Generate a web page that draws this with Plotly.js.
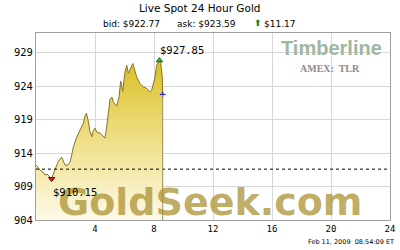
<!DOCTYPE html>
<html>
<head>
<meta charset="utf-8">
<script src="https://cdn.plot.ly/plotly-3.0.1.min.js"></script>
<style>html,body{margin:0;padding:0;background:#fff;}#chart{width:400px;height:250px;}</style>
</head>
<body>
<div id="chart"></div>
<script>
// hours since start of the 24h window
const hours = [0, 0.14, 0.27, 0.47, 0.61, 0.75, 0.88, 1.06, 1.15, 1.29, 1.49, 1.74, 1.83, 1.97, 2.17, 2.31, 2.42, 2.53, 2.76, 2.98, 3.21, 3.32, 3.42, 3.53, 3.66, 3.78, 3.88, 4.0, 4.12, 4.34, 4.56, 4.68, 4.79, 4.90, 5.02, 5.15, 5.24, 5.47, 5.63, 5.74, 5.88, 6.03, 6.15, 6.26, 6.37, 6.56, 6.64, 6.83, 7.05, 7.27, 7.51, 7.73, 7.84, 7.95, 8.07, 8.18, 8.29, 8.37, 8.45, 8.56, 8.59];
const prices = [912.21, 911.91, 911.46, 911.16, 910.72, 910.87, 910.57, 910.15, 910.72, 911.46, 912.66, 913.40, 912.81, 912.21, 912.21, 912.66, 913.70, 914.90, 916.39, 917.43, 918.48, 919.52, 919.97, 918.93, 917.28, 916.43, 917.28, 917.73, 917.13, 916.99, 916.46, 916.24, 917.88, 920.42, 922.06, 922.36, 921.61, 921.01, 922.36, 924.75, 923.25, 926.09, 927.13, 925.94, 926.39, 927.39, 926.84, 925.34, 924.40, 923.90, 923.66, 923.15, 923.40, 924.40, 925.34, 927.13, 927.63, 927.85, 927.63, 925.39, 922.77];
const prevClose = 911.60;
const highPoint = {x: 8.37, y: 927.85, label: "$927.85"};
const lowPoint = {x: 1.06, y: 910.15, label: "$910.15"};
const bid = "$922.77", ask = "$923.59", change = "$11.17";
const xTicks = [4, 8, 12, 16, 20, 24];
const yTicks = [904, 909, 914, 919, 924, 929];
const stamp = "Feb 11, 2009  08:54:09 ET";

const lastX = hours[hours.length - 1];
const lastY = prices[prices.length - 1];
const mono = "DejaVu Sans Mono";

const traces = [
  {
    x: hours, y: prices, type: "scatter", mode: "lines",
    line: {color: "#857522", width: 1},
    fill: "tozeroy",
    fillgradient: {type: "vertical", start: 904, stop: 928,
      colorscale: [[0, "#fdfae8"], [0.5, "#efdf86"], [1, "#dbbf24"]]},
    hoverinfo: "skip"
  },
  {
    x: [0, 24], y: [prevClose, prevClose], type: "scatter", mode: "lines",
    line: {color: "#000", width: 1, dash: "3px,3px"}, hoverinfo: "skip"
  },
  {
    x: [highPoint.x], y: [highPoint.y], type: "scatter", mode: "markers",
    marker: {symbol: "triangle-up", size: 5.5, color: "#22cc22", line: {color: "#225522", width: 1}}
  },
  {
    x: [lowPoint.x], y: [lowPoint.y], type: "scatter", mode: "markers",
    marker: {symbol: "triangle-down", size: 5.5, color: "#ee1111", line: {color: "#551111", width: 1}}
  },
  {
    x: [lastX], y: [lastY], type: "scatter", mode: "markers",
    marker: {symbol: "cross-thin", size: 4, line: {color: "#0000ee", width: 1}}
  }
];

const layout = {
  width: 400, height: 250,
  margin: {l: 36, r: 10, t: 33, b: 30, pad: 0},
  paper_bgcolor: "#fff", plot_bgcolor: "#fff",
  showlegend: false,
  xaxis: {
    range: [0, 24], tickvals: xTicks, ticktext: xTicks.map(String),
    showgrid: true, gridcolor: "#d8d8d8", gridwidth: 1,
    showline: true, linecolor: "#a0a0a0", linewidth: 1, mirror: true,
    zeroline: false, ticks: "", ticklen: 0,
    tickfont: {family: mono, size: 9, color: "#000"}, fixedrange: true
  },
  yaxis: {
    range: [904, 931.95], tickvals: yTicks, ticktext: yTicks.map(String),
    showgrid: true, gridcolor: "#d8d8d8", gridwidth: 1,
    showline: true, linecolor: "#a0a0a0", linewidth: 1, mirror: true,
    zeroline: false, ticks: "", ticklen: 0,
    tickfont: {family: mono, size: 10.5, color: "#000"}, fixedrange: true
  },
  shapes: [
    {type: "line", xref: "x", yref: "y", x0: lastX, x1: lastX, y0: 904, y1: lastY,
     line: {color: "#9a8c55", width: 1}}
  ],
  annotations: [
    {text: "Live Spot 24 Hour Gold", xref: "paper", yref: "paper", x: (199 - 36) / 354, y: (220 - 8) / 187,
     xanchor: "center", yanchor: "middle", showarrow: false,
     font: {family: "DejaVu Sans", size: 10.5, color: "#000"}},
    {text: "bid: " + bid, xref: "paper", yref: "paper", x: (101 - 36) / 354, y: (220 - 24) / 187,
     xanchor: "left", yanchor: "middle", showarrow: false,
     font: {family: "DejaVu Sans", size: 9, color: "#000"}},
    {text: "ask: " + ask, xref: "paper", yref: "paper", x: (175 - 36) / 354, y: (220 - 24) / 187,
     xanchor: "left", yanchor: "middle", showarrow: false,
     font: {family: "DejaVu Sans", size: 9, color: "#000"}},
    {text: "<b>⬆</b>", xref: "paper", yref: "paper", x: (258 - 36) / 354, y: (220 - 22.5) / 187,
     xanchor: "center", yanchor: "middle", showarrow: false,
     font: {family: "DejaVu Sans", size: 9, color: "#118a2a"}},
    {text: change, xref: "paper", yref: "paper", x: (262 - 36) / 354, y: (220 - 24) / 187,
     xanchor: "left", yanchor: "middle", showarrow: false,
     font: {family: "DejaVu Sans", size: 9, color: "#000"}},
    {text: "<b>GoldSeek.com</b>", xref: "paper", yref: "paper", x: (210 - 36) / 354, y: (220 - 202) / 187,
     xanchor: "center", yanchor: "middle", showarrow: false,
     font: {family: "DejaVu Sans", size: 38, color: "rgba(172,146,52,0.75)"}},
    {text: "<b>Timberline</b>", xref: "paper", yref: "paper", x: (331 - 36) / 354, y: (220 - 47.5) / 187,
     xanchor: "center", yanchor: "middle", showarrow: false,
     font: {family: "Liberation Sans", size: 20, color: "#9fb79f"}},
    {text: "<b>AMEX:  TLR</b>", xref: "paper", yref: "paper", x: (330 - 36) / 354, y: (220 - 68) / 187,
     xanchor: "center", yanchor: "middle", showarrow: false,
     font: {family: "Liberation Serif", size: 10, color: "#8a8a8a"}},
    {text: highPoint.label, xref: "x", yref: "y", x: highPoint.x, y: highPoint.y,
     xanchor: "left", yanchor: "middle", xshift: -1, yshift: 10, showarrow: false,
     font: {family: mono, size: 10.5, color: "#000"}},
    {text: lowPoint.label, xref: "x", yref: "y", x: lowPoint.x, y: lowPoint.y,
     xanchor: "left", yanchor: "middle", xshift: -1, yshift: -13, showarrow: false,
     font: {family: mono, size: 10.5, color: "#000"}},
    {text: stamp, xref: "paper", yref: "paper", x: (396 - 36) / 354, y: (220 - 241.5) / 187,
     xanchor: "right", yanchor: "middle", showarrow: false,
     font: {family: "DejaVu Sans", size: 6.5, color: "#000"}}
  ]
};

Plotly.newPlot("chart", traces, layout, {displayModeBar: false, staticPlot: true});
</script>
</body>
</html>
